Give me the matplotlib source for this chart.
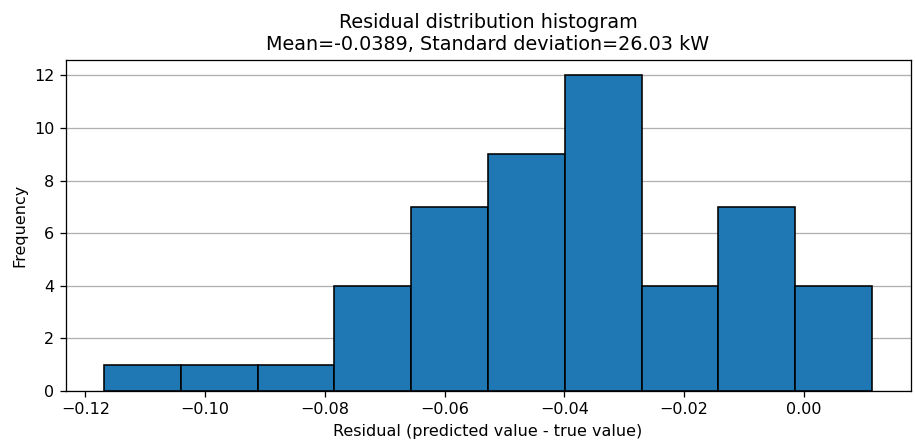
import matplotlib
matplotlib.use("Agg")
import matplotlib.pyplot as plt
import numpy as np

# histogram bins
bin_left = -0.1169
bin_right = 0.0114
counts = [1, 1, 1, 4, 7, 9, 12, 4, 7, 4]

mean_res = -0.0389
std_res = 26.03

edges = np.linspace(bin_left, bin_right, len(counts) + 1)

DPI = 115
fig, ax = plt.subplots(figsize=(915 / DPI, 446 / DPI), dpi=DPI)
ax.hist(edges[:-1], bins=edges, weights=counts, color="#1f77b4", edgecolor="black")
ax.set_title(f"Residual distribution histogram\nMean={mean_res}, Standard deviation={std_res} kW")
ax.set_xlabel("Residual (predicted value - true value)")
ax.set_ylabel("Frequency")
ax.grid(axis="y")
ax.set_axisbelow(True)

fig.subplots_adjust(left=65.5 / 915, right=910.5 / 915, top=1 - 59.7 / 446, bottom=1 - 391 / 446)
plt.savefig("out.png", dpi=DPI)
